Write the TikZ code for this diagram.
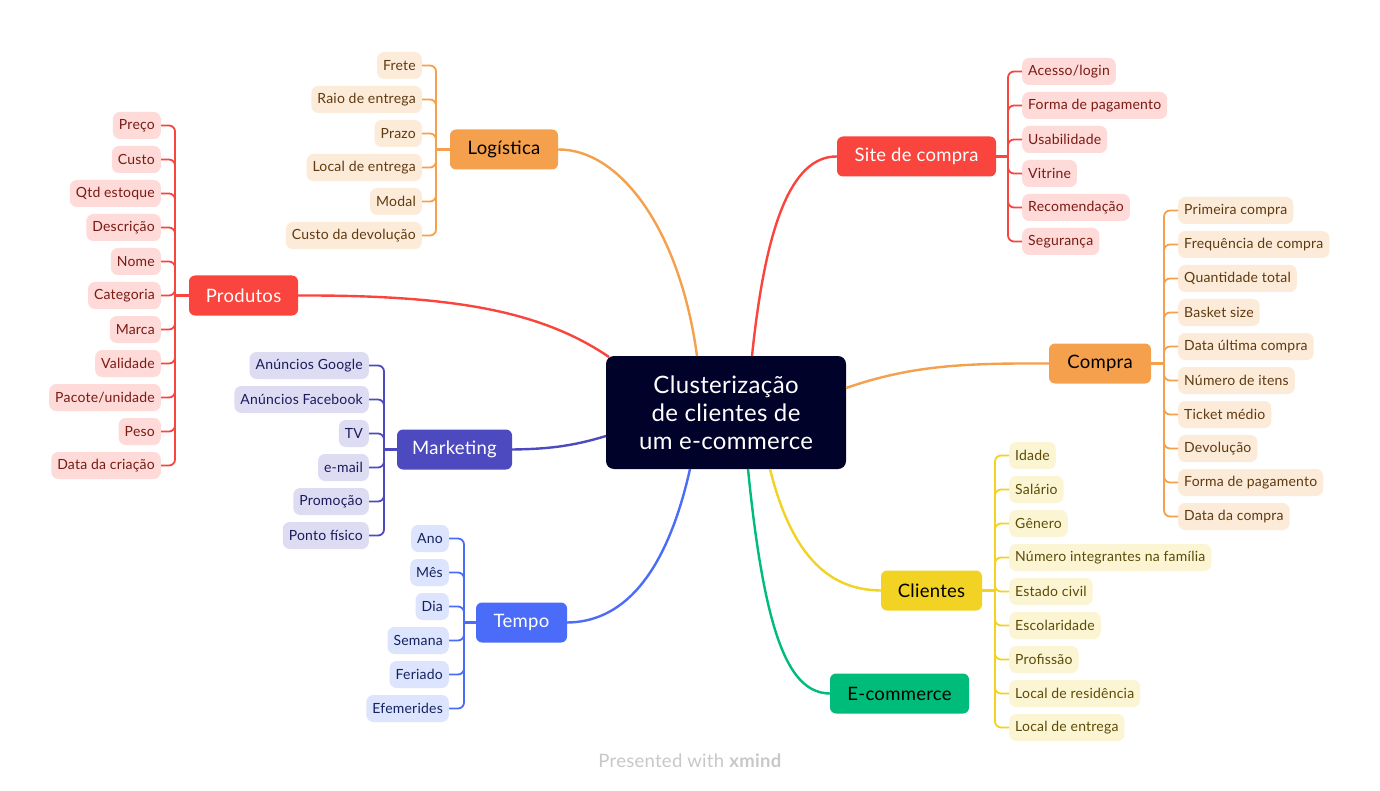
\documentclass[tikz,border=0pt]{standalone}
\usepackage{fontspec}
\setmainfont{Lato}[LetterSpace=1.5]
\definecolor{central}{HTML}{00022A}
\definecolor{orMain}{HTML}{F5A04C}
\definecolor{orLeaf}{HTML}{FDEBDA}
\definecolor{orText}{HTML}{5E3A10}
\definecolor{rdMain}{HTML}{F9453D}
\definecolor{rdLeaf}{HTML}{FEDAD8}
\definecolor{rdText}{HTML}{7B1A14}
\definecolor{inMain}{HTML}{4D4AC0}
\definecolor{inLeaf}{HTML}{DDDCF3}
\definecolor{inText}{HTML}{1C1A5C}
\definecolor{blMain}{HTML}{4A6CF8}
\definecolor{blLeaf}{HTML}{DDE4FE}
\definecolor{blText}{HTML}{13235F}
\definecolor{ylMain}{HTML}{F2D324}
\definecolor{ylLeaf}{HTML}{FCF5D3}
\definecolor{ylText}{HTML}{5B4B06}
\definecolor{gnMain}{HTML}{00BC7A}
\definecolor{footer}{HTML}{C8C8C8}
\begin{document}
\begin{tikzpicture}[x=1pt,y=-1pt,
  leaf/.style={rounded corners=7pt, minimum height=27pt, inner xsep=6pt, inner ysep=0pt, font=\fontsize{14}{15}\selectfont},
  topic/.style={rounded corners=6pt, minimum height=40pt, inner xsep=0pt, font=\fontsize{18.5}{20}\selectfont},
  br/.style={line width=2.4pt},
  hub/.style={line width=2.6pt},
  sp/.style={line width=1.8pt, rounded corners=6pt},
  leafOr/.style={leaf, fill=orLeaf, text=orText},
  leafRd/.style={leaf, fill=rdLeaf, text=rdText},
  leafIn/.style={leaf, fill=inLeaf, text=inText},
  leafBl/.style={leaf, fill=blLeaf, text=blText},
  leafYl/.style={leaf, fill=ylLeaf, text=ylText},
]
\useasboundingbox (0,0) rectangle (1380,791);
\fill[white] (0,0) rectangle (1380,791);

% central
\node[fill=central, text=white, rounded corners=8pt, minimum width=240pt, minimum height=113pt, align=center,
      font=\fontsize{24}{28}\selectfont] (c) at (726,412.5) {Clusterização\\de clientes de\\um e-commerce};
\coordinate (cLg) at (697,356);
\coordinate (cSt) at (752,356);
\coordinate (cPr) at (609,357);
\coordinate (cCp) at (846,388);
\coordinate (cMk) at (606,436);
\coordinate (cTp) at (690,469);
\coordinate (cCl) at (770,469);
\coordinate (cEc) at (748,469);

% topics
\node[topic, fill=orMain, text=black, minimum width=108pt] (lg) at (504,149.5) {Logística};
\node[topic, fill=rdMain, text=white, minimum width=159pt] (st) at (916.5,156.5) {Site de compra};
\node[topic, fill=rdMain, text=white, minimum width=109pt] (pr) at (243.5,295.5) {Produtos};
\node[topic, fill=orMain, text=black, minimum width=102pt] (cp) at (1100,363.5) {Compra};
\node[topic, fill=inMain, text=white, minimum width=115pt] (mk) at (454.5,449.5) {Marketing};
\node[topic, fill=blMain, text=white, minimum width=91pt] (tp) at (521.5,622.5) {Tempo};
\node[topic, fill=ylMain, text=black, minimum width=101pt] (cl) at (931.5,590.5) {Clientes};
\node[topic, fill=gnMain, text=black, minimum width=139pt] (ec) at (899.5,693.5) {E-commerce};

% main branches
\draw[br, orMain] (cLg) .. controls (680,230) and (620,149) .. (lg.east);
\draw[br, rdMain] (cSt) .. controls (765,230) and (790,156) .. (st.west);
\draw[br, rdMain] (cPr) .. controls (540,310) and (450,295) .. (pr.east);
\draw[br, orMain] (cCp) .. controls (910,366) and (960,363) .. (cp.west);
\draw[br, inMain] (cMk) .. controls (570,447) and (545,449) .. (mk.east);
\draw[br, blMain] (cTp) .. controls (665,580) and (620,622) .. (tp.east);
\draw[br, ylMain] (cCl) .. controls (795,570) and (840,590) .. (cl.west);
\draw[br, gnMain] (cEc) .. controls (765,640) and (790,693) .. (ec.west);

% Logistica leaves
\coordinate (lgh) at (436,149.5);
\draw[hub, orMain] (lg.west) -- (lgh);
\foreach \i/\y/\t in {1/65.5/{Frete},2/99.5/{Raio de entrega},3/133.5/{Prazo},4/167.5/{Local de entrega},5/201.5/{Modal},6/235.5/{Custo da devolução}}{
  \node[leafOr, anchor=east] (lg\i) at (422,\y) {\t};
  \draw[sp, orMain] (lgh) |- (lg\i.east);
}

% Site de compra leaves
\coordinate (sth) at (1008,156.5);
\draw[hub, rdMain] (st.east) -- (sth);
\foreach \i/\y/\t in {1/71.5/{Acesso/login},2/105.5/{Forma de pagamento},3/139.5/{Usabilidade},4/173.5/{Vitrine},5/207.5/{Recomendação},6/241.5/{Segurança}}{
  \node[leafRd, anchor=west] (st\i) at (1022,\y) {\t};
  \draw[sp, rdMain] (sth) |- (st\i.west);
}

% Produtos leaves
\coordinate (prh) at (175,295.5);
\draw[hub, rdMain] (pr.west) -- (prh);
\foreach \i/\y/\t in {1/125.5/{Preço},2/159.5/{Custo},3/193.5/{Qtd estoque},4/227.5/{Descrição},5/261.5/{Nome},6/295.5/{Categoria},7/329.5/{Marca},8/363.5/{Validade},9/397.5/{Pacote/unidade},10/431.5/{Peso},11/465.5/{Data da criação}}{
  \node[leafRd, anchor=east] (pr\i) at (161,\y) {\t};
  \draw[sp, rdMain] (prh) |- (pr\i.east);
}

% Compra leaves
\coordinate (cph) at (1164,363.5);
\draw[hub, orMain] (cp.east) -- (cph);
\foreach \i/\y/\t in {1/210.5/{Primeira compra},2/244.5/{Frequência de compra},3/278.5/{Quantidade total},4/312.5/{Basket size},5/346.5/{Data última compra},6/380.5/{Número de itens},7/414.5/{Ticket médio},8/448.5/{Devolução},9/482.5/{Forma de pagamento},10/516.5/{Data da compra}}{
  \node[leafOr, anchor=west] (cp\i) at (1178,\y) {\t};
  \draw[sp, orMain] (cph) |- (cp\i.west);
}

% Marketing leaves
\coordinate (mkh) at (384,449.5);
\draw[hub, inMain] (mk.west) -- (mkh);
\foreach \i/\y/\t in {1/365.5/{Anúncios Google},2/399.5/{Anúncios Facebook},3/433.5/{TV},4/467.5/{e-mail},5/501.5/{Promoção},6/535.5/{Ponto físico}}{
  \node[leafIn, anchor=east] (mk\i) at (369,\y) {\t};
  \draw[sp, inMain] (mkh) |- (mk\i.east);
}

% Tempo leaves
\coordinate (tph) at (464,622.5);
\draw[hub, blMain] (tp.west) -- (tph);
\foreach \i/\y/\t in {1/538.5/{Ano},2/572.5/{Mês},3/606.5/{Dia},4/640.5/{Semana},5/674.5/{Feriado},6/708.5/{Efemerides}}{
  \node[leafBl, anchor=east] (tp\i) at (449,\y) {\t};
  \draw[sp, blMain] (tph) |- (tp\i.east);
}

% Clientes leaves
\coordinate (clh) at (995,590.5);
\draw[hub, ylMain] (cl.east) -- (clh);
\foreach \i/\y/\t in {1/455.5/{Idade},2/489.5/{Salário},3/523.5/{Gênero},4/557.5/{Número integrantes na família},5/591.5/{Estado civil},6/625.5/{Escolaridade},7/659.5/{Profissão},8/693.5/{Local de residência},9/727.5/{Local de entrega}}{
  \node[leafYl, anchor=west] (cl\i) at (1009,\y) {\t};
  \draw[sp, ylMain] (clh) |- (cl\i.west);
}

% footer
\node[text=footer, font=\fontsize{18.5}{19}\selectfont] (ft) at (690,760.5) {Presented with \textbf{xmind}};
\end{tikzpicture}
\end{document}
